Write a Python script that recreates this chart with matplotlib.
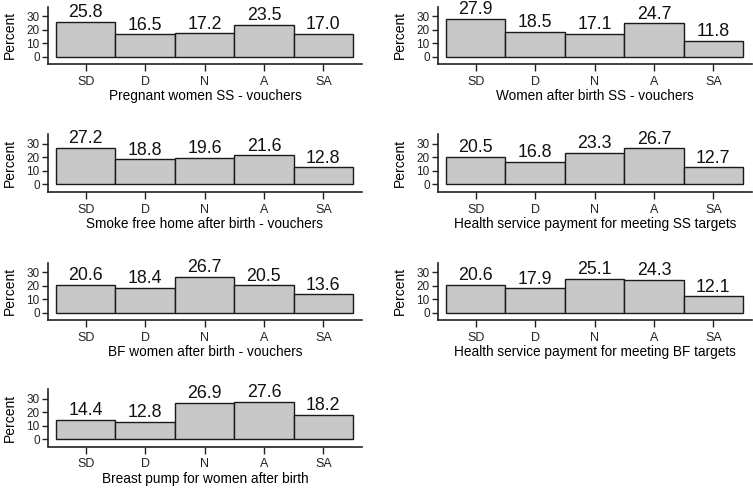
import matplotlib
matplotlib.use("Agg")
import matplotlib.pyplot as plt
import numpy as np

plt.rcParams['font.family'] = ['Liberation Sans', 'DejaVu Sans']

categories = ["SD", "D", "N", "A", "SA"]

titles = [
    "Pregnant women SS - vouchers",
    "Women after birth SS - vouchers",
    "Smoke free home after birth - vouchers",
    "Health service payment for meeting SS targets",
    "BF women after birth - vouchers",
    "Health service payment for meeting BF targets",
    "Breast pump for women after birth",
]

pregnant_ss = [25.8, 16.5, 17.2, 23.5, 17.0]
after_birth_ss = [27.9, 18.5, 17.1, 24.7, 11.8]
smoke_free_home = [27.2, 18.8, 19.6, 21.6, 12.8]
payment_ss = [20.5, 16.8, 23.3, 26.7, 12.7]
bf_vouchers = [20.6, 18.4, 26.7, 20.5, 13.6]
payment_bf = [20.6, 17.9, 25.1, 24.3, 12.1]
breast_pump = [14.4, 12.8, 26.9, 27.6, 18.2]

series = [pregnant_ss, after_birth_ss, smoke_free_home, payment_ss,
          bf_vouchers, payment_bf, breast_pump]

W, H = 753, 488
fig = plt.figure(figsize=(W / 100, H / 100), dpi=100)

# pixel layout
col_left = [48, 438]
ax_w = 314
row_bottom = [64, 191.7, 320, 446.5]
ymin, ymax = -5.4, 37
px_per_unit = 40.6 / 30
ax_h = (ymax - ymin) * px_per_unit
x = np.arange(len(categories))

for i, (vals, title) in enumerate(zip(series, titles)):
    r, c = divmod(i, 2)
    left = col_left[c]
    bottom = row_bottom[r]
    ax = fig.add_axes([left / W, 1 - bottom / H, ax_w / W, ax_h / H])
    ax.bar(x, vals, width=1.0, color="#c8c8c8", edgecolor="#1a1a1a", linewidth=1.0)
    for xi, v in zip(x, vals):
        ax.annotate(f"{v:.1f}", (xi, v), xytext=(0, 3.2), textcoords="offset points",
                    ha="center", va="baseline", fontsize=12.8, color="#111111",
                    annotation_clip=False)
    ax.set_xlim(-0.5 - 8 / 59.4, 4.5 + 9 / 59.4)
    ax.set_ylim(ymin, ymax)
    ax.set_yticks([0, 10, 20, 30])
    ax.set_xticks(x)
    ax.set_xticklabels(categories)
    ax.tick_params(axis="y", labelsize=8.5, length=4, width=1, pad=2, colors="#222222")
    ax.tick_params(axis="x", labelsize=9, length=5, width=1, pad=3.5, colors="#222222")
    ax.set_ylabel("Percent", fontsize=10, labelpad=7)
    ax.set_xlabel(title, fontsize=9.8, labelpad=1)
    for s in ["top", "right"]:
        ax.spines[s].set_visible(False)
    for s in ["left", "bottom"]:
        ax.spines[s].set_linewidth(1.2)
        ax.spines[s].set_color("#222222")
    ax.patch.set_visible(False)

fig.savefig("out.png", dpi=100)
